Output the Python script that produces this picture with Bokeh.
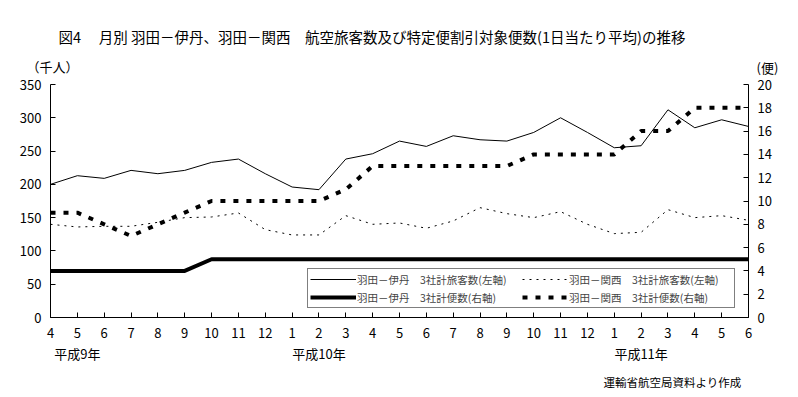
from bokeh.plotting import figure
from bokeh.models import Range1d, LinearAxis, FixedTicker, Label, Legend, LegendItem, Title
from bokeh.embed import file_html
from bokeh.resources import INLINE

# ---- data ----
month_labels = ["4", "5", "6", "7", "8", "9", "10", "11", "12",
                "1", "2", "3", "4", "5", "6", "7", "8", "9", "10", "11", "12",
                "1", "2", "3", "4", "5", "6"]
year_labels = ["平成9年", "平成10年", "平成11年"]
year_label_pos = [1, 10, 22]

itami_pax = [200, 213, 209, 221, 216, 221, 233, 238, 216, 196, 192, 238, 246, 265,
             257, 273, 267, 265, 278, 300, 278, 255, 258, 312, 285, 297, 287]
kansai_pax = [140, 136, 137, 137, 143, 150, 151, 157, 132, 124, 124, 153, 140, 142,
              134, 145, 165, 156, 150, 159, 140, 126, 128, 162, 150, 153, 146]
itami_flights = [4, 4, 4, 4, 4, 4, 5, 5, 5, 5, 5, 5, 5, 5,
                 5, 5, 5, 5, 5, 5, 5, 5, 5, 5, 5, 5, 5]
kansai_flights = [9, 9, 8, 7, 8, 9, 10, 10, 10, 10, 10, 11, 13, 13,
                  13, 13, 13, 13, 14, 14, 14, 14, 16, 16, 18, 18, 18]

legend_labels = ["羽田－伊丹　3社計旅客数(左軸)", "羽田－伊丹　3社計便数(右軸)",
                 "羽田－関西　3社計旅客数(左軸)", "羽田－関西　3社計便数(右軸)"]

title_text = "図4　 月別 羽田－伊丹、羽田－関西　航空旅客数及び特定便割引対象便数(1日当たり平均)の推移"
left_unit = "（千人）"
right_unit = "(便)"
source_text = "運輸省航空局資料より作成"

FONT = "Noto Sans CJK JP"
x = list(range(len(month_labels)))

p = figure(width=798, height=397, output_backend="svg", toolbar_location=None,
           title=None,
           x_range=Range1d(0, len(month_labels) - 1), y_range=Range1d(0, 350),
           min_border_left=50, min_border_right=50, min_border_top=84, min_border_bottom=80)
p.outline_line_color = None
p.grid.visible = False
p.background_fill_color = "white"
p.border_fill_color = "white"
p.extra_y_ranges = {"right": Range1d(0, 20)}

def style_axis(ax):
    ax.axis_line_color = "black"
    ax.axis_line_width = 1
    ax.major_tick_in = 5
    ax.major_tick_out = 0
    ax.minor_tick_line_color = None
    ax.major_label_text_font = FONT
    ax.major_label_text_font_size = "13px"
    ax.major_label_text_color = "black"

# bottom axis: month labels, year labels as a second line
overrides = {i: s for i, s in enumerate(month_labels)}
for t, pos in zip(year_labels, year_label_pos):
    overrides[pos] = month_labels[pos] + "\n" + t
xa = p.xaxis[0]
xa.ticker = FixedTicker(ticks=x)
xa.major_label_overrides = overrides
style_axis(xa)
xa.major_label_standoff = 5
xa.major_label_text_line_height = 1.12

ya = p.yaxis[0]
ya.ticker = FixedTicker(ticks=list(range(0, 351, 50)))
style_axis(ya)
ya.major_label_standoff = 9

ra = LinearAxis(y_range_name="right", ticker=FixedTicker(ticks=list(range(0, 21, 2))))
style_axis(ra)
ra.major_label_standoff = 9
p.add_layout(ra, "right")

r1 = p.line(x, itami_pax, line_color="black", line_width=1)
r2 = p.line(x, kansai_pax, line_color="black", line_width=1, line_dash="2 5")
r3 = p.line(x, itami_flights, line_color="black", line_width=4, y_range_name="right")
r4 = p.line(x, kansai_flights, line_color="black", line_width=4, line_dash="5 8",
            y_range_name="right")

legend = Legend(items=[LegendItem(label=legend_labels[0], renderers=[r1]),
                       LegendItem(label=legend_labels[1], renderers=[r3]),
                       LegendItem(label=legend_labels[2], renderers=[r2]),
                       LegendItem(label=legend_labels[3], renderers=[r4])],
                location=(257, 9), ncols=2, orientation="vertical",
                border_line_color="black", border_line_width=1,
                background_fill_color="white", background_fill_alpha=1,
                label_text_font=FONT, label_text_font_size="10.5px",
                label_text_line_height=1.0,
                glyph_width=46, glyph_height=16, label_height=16, label_width=163,
                label_standoff=1, padding=2, spacing=2, margin=0)
p.add_layout(legend)

# unit labels above the axes (each in its own row of the top side panel)
p.add_layout(Label(x=2, y=18, x_units="screen", y_units="screen", text=left_unit,
                   text_font=FONT, text_font_size="13px", text_align="center",
                   text_baseline="middle", text_color="black"), "above")
p.add_layout(Label(x=717, y=-2, x_units="screen", y_units="screen", text=right_unit,
                   text_font=FONT, text_font_size="13px", text_align="center",
                   text_baseline="middle", text_color="black"), "above")

# main title
p.add_layout(Title(text=title_text, align="left", offset=8, standoff=0,
                   text_font=FONT, text_font_size="14.5px", text_font_style="normal",
                   text_color="black"), "above")

# source note
p.add_layout(Title(text=source_text, align="left", offset=553, standoff=12,
                   text_font=FONT, text_font_size="11.5px", text_font_style="normal",
                   text_color="black"), "below")

open("out.html", "w").write(file_html(p, INLINE))
